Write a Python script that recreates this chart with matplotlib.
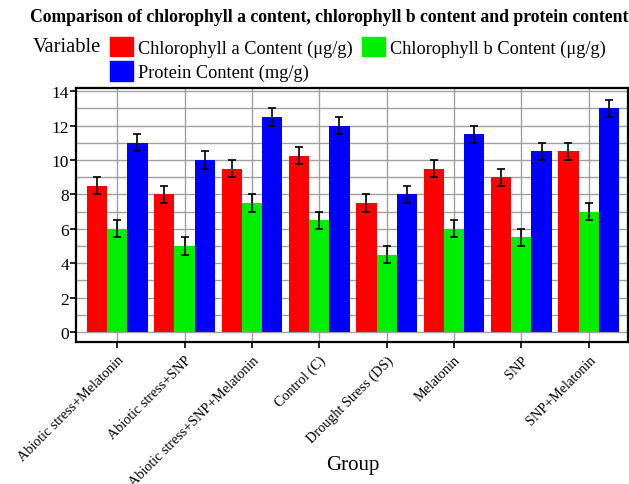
import numpy as np
import matplotlib
matplotlib.use("Agg")
import matplotlib.pyplot as plt
from matplotlib.patches import Patch

groups = ["Abiotic stress+Melatonin", "Abiotic stress+SNP", "Abiotic stress+SNP+Melatonin",
          "Control (C)", "Drought Stress (DS)", "Melatonin", "SNP", "SNP+Melatonin"]
chl_a = [8.5, 8.0, 9.5, 10.25, 7.5, 9.5, 9.0, 10.5]
chl_b = [6.0, 5.0, 7.5, 6.5, 4.5, 6.0, 5.5, 7.0]
protein = [11.0, 10.0, 12.5, 12.0, 8.0, 11.5, 10.5, 13.0]
chl_a_err = [0.5] * 8
chl_b_err = [0.5] * 8
protein_err = [0.5] * 8

series_names = ["Chlorophyll a Content (\u03bcg/g)", "Chlorophyll b Content (\u03bcg/g)",
                "Protein Content (mg/g)"]
colors = ["#ff0000", "#00ee00", "#0000ff"]

plt.rcParams["font.family"] = ["Liberation Serif", "DejaVu Serif"]

fig = plt.figure(figsize=(6.29, 4.85), dpi=100)
ax = fig.add_axes([0.121, 0.293, 0.877, 0.523])

x = np.arange(len(groups))
w = 0.3
for i, (vals, errs) in enumerate([(chl_a, chl_a_err), (chl_b, chl_b_err), (protein, protein_err)]):
    ax.bar(x + (i - 1) * w, vals, width=w, color=colors[i], zorder=2)
    ax.errorbar(x + (i - 1) * w, vals, yerr=errs, fmt="none", ecolor="black",
                elinewidth=1.2, capsize=3, capthick=1.2, zorder=3)

ax.set_xlim(-0.61, 7.58)
ax.set_ylim(-0.58, 14.17)
ax.set_yticks(np.arange(0, 15, 2))
ax.set_yticks(np.arange(0, 15, 1), minor=True)
ax.tick_params(axis="y", which="minor", length=0)
ax.set_xticks(x)
ax.set_xticklabels(groups, rotation=45, ha="right", rotation_mode="anchor", fontsize=10.2)
ax.tick_params(axis="y", labelsize=12.5, length=4, width=1.2, pad=1)
ax.tick_params(axis="x", length=4, width=1.2, pad=4)
ax.grid(True, which="both", axis="y", color="#a0a0a0", lw=1, zorder=0)
ax.grid(True, which="major", axis="x", color="#a0a0a0", lw=1, zorder=0)
ax.set_axisbelow(True)
for s in ax.spines.values():
    s.set_linewidth(1.6)
    s.set_color("black")

fig.text(353 / 629, 1 - 466 / 485, "Group", ha="center", va="center", fontsize=15)

fig.text(0.523, 0.963, "Comparison of chlorophyll a content, chlorophyll b content and protein content",
         ha="center", va="center", fontsize=12.7, fontweight="bold")
fig.text(0.052, 0.903, "Variable", ha="left", va="center", fontsize=14.8)

handles = [Patch(color=c) for c in colors]
order = [0, 2, 1]
fig.legend([handles[i] for i in order], [series_names[i] for i in order],
           ncol=2, loc="upper left", bbox_to_anchor=(0.175, 0.922), frameon=False,
           fontsize=13.2, handlelength=1.26, handleheight=1.25, handletextpad=0.27,
           columnspacing=0.5, labelspacing=0.25, borderpad=0, borderaxespad=0)

fig.savefig("out.png", dpi=100)
